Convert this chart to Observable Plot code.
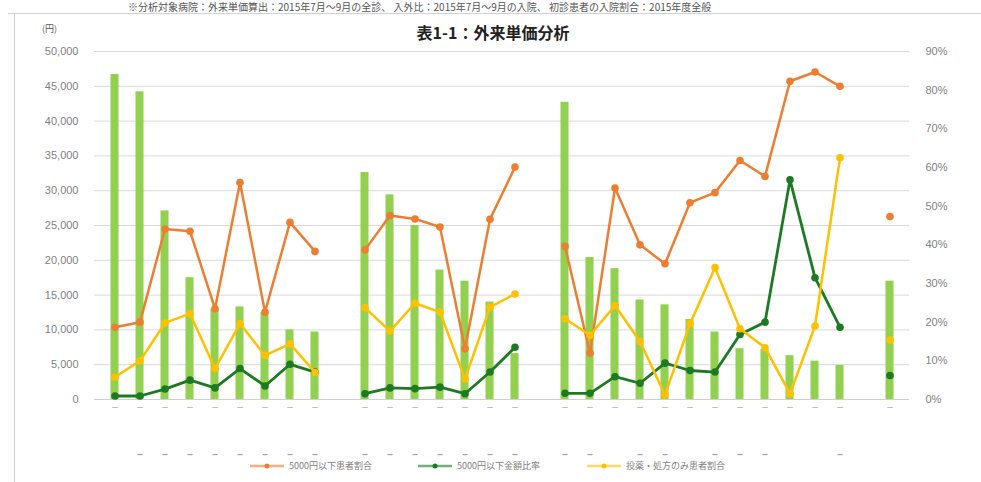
<!DOCTYPE html>
<html>
<head>
<meta charset="utf-8">
<script src="https://cdn.jsdelivr.net/npm/d3@7"></script>
<script src="https://cdn.jsdelivr.net/npm/@observablehq/plot@0.6"></script>
<style>
  html, body { margin: 0; padding: 0; background: #fff; }
  body { width: 981px; height: 482px; position: relative; overflow: hidden;
         font-family: "Noto Sans CJK JP", "Noto Sans", sans-serif; }
  #chart { position: absolute; left: 0; top: 0; }
  .abs { position: absolute; white-space: nowrap; }
  #frameTop { position: absolute; left: 8px; top: 13px; width: 980px; height: 0; border-top: 1px solid #d0d0d0; }
  #frameLeft { position: absolute; left: 14px; top: 13px; width: 0; height: 480px; border-left: 1.5px solid #cfcfcf; }
  .leg { position: absolute; top: 459px; font-size: 9px; color: #7f7f7f; display: flex; align-items: center; gap: 5px; }
</style>
</head>
<body>
<div id="frameTop"></div>
<div id="frameLeft"></div>
<div id="chart"></div>
<div class="abs" style="left:128px; top:1px; font-size:10px; line-height:11px; color:#555;">※分析対象病院：外来単価算出：2015年7月〜9月の全診、 入外比：2015年7月〜9月の入院、 初診患者の入院割合：2015年度全般</div>
<div class="abs" style="left:0; width:986px; top:20px; text-align:center; font-size:16px; font-weight:bold; color:#222;">表1-1：外来単価分析</div>
<div class="abs" style="left:42px; top:22px; font-size:9px; color:#595959;">(円)</div>
<div id="legend"></div>
<script>
// ---- data ----
// 32 category slots: group A (9), gap, group B (7), gap, group C (12), gap, total
const categories = [
  "A1","A2","A3","A4","A5","A6","A7","A8","A9","gap1",
  "B1","B2","B3","B4","B5","B6","B7","gap2",
  "C1","C2","C3","C4","C5","C6","C7","C8","C9","C10","C11","C12","gap3",
  "合計"
];
// 外来単価 (円) – bars, left axis
const unitPrice = [
  46700, 44200, 27100, 17500, 13000, 13300, 12500, 10000, 9700, null,
  32600, 29400, 25000, 18600, 17000, 14000, 6600, null,
  42700, 20400, 18800, 14300, 13600, 11500, 9700, 7300, 7200, 6300, 5500, 4900, null,
  17000
];
// 5000円以下患者割合 (%) – orange, right axis
const under5000Share = [
  18.7, 20.0, 44.1, 43.5, 23.5, 56.1, 22.6, 45.8, 38.3, null,
  38.7, 47.6, 46.7, 44.6, 13.1, 46.6, 60.1, null,
  39.6, 12.0, 54.7, 40.0, 35.1, 50.9, 53.5, 61.8, 57.7, 82.3, 84.7, 81.0, null,
  47.3
];
// 5000円以下金額比率 (%) – dark green, right axis
const under5000Amount = [
  0.9, 0.9, 2.7, 5.0, 3.0, 8.0, 3.5, 9.1, 7.1, null,
  1.5, 3.0, 2.8, 3.2, 1.5, 7.1, 13.5, null,
  1.6, 1.6, 5.9, 4.2, 9.4, 7.5, 7.1, 16.8, 20.0, 56.8, 31.5, 18.7, null,
  6.2
];
// 投薬・処方のみ患者割合 (%) – yellow, right axis
const prescriptionOnlyShare = [
  5.8, 10.0, 19.8, 22.2, 8.0, 19.6, 11.4, 14.4, 7.0, null,
  23.7, 17.7, 24.9, 22.6, 5.3, 23.9, 27.3, null,
  20.9, 16.6, 24.3, 15.0, 1.2, 19.6, 34.1, 18.3, 13.4, 1.5, 19.0, 62.5, null,
  15.4
];
// clipped category labels (only fragments visible)
const labelRow1 = categories.map((c, i) => unitPrice[i] == null ? "" : "–");
const labelRow2Slots = ["A2","A3","A4","A5","A6","A7","A8","A9","B1","B2","B3","B4","B5","B6","B7","C1","C2","C4","C5","C7","C8","C9","C12"];
const leftTicks = d3.range(0, 50001, 5000);
const rightTicks = d3.range(0, 91, 10);
const seriesNames = ["5000円以下患者割合", "5000円以下金額比率", "投薬・処方のみ患者割合"];
const seriesColors = ["#ed7d31", "#1b7a22", "#ffc000"];

// ---- build ----
const Y_MAX = 50000, P_MAX = 90;
const p2y = p => (p == null ? NaN : p / P_MAX * Y_MAX);
const rows = categories.map((c, i) => ({
  cat: c, bar: unitPrice[i],
  o: p2y(under5000Share[i]), g: p2y(under5000Amount[i]), yl: p2y(prescriptionOnlyShare[i]),
  l1: labelRow1[i]
}));
const barRows = rows.filter(d => d.bar != null);
const dotRows = key => rows.filter(d => !isNaN(d[key]));

const chart = Plot.plot({
  width: 981, height: 482,
  marginLeft: 94, marginRight: 72, marginTop: 51, marginBottom: 83,
  x: { domain: categories, padding: 0, axis: null },
  y: { domain: [0, Y_MAX], axis: null },
  style: { fontFamily: "'Liberation Sans', 'Noto Sans', sans-serif", fontSize: "11px", color: "#595959", background: "transparent" },
  marks: [
    Plot.ruleY(leftTicks.slice(1), { stroke: "#d9d9d9", strokeWidth: 1 }),
    Plot.axisY({ anchor: "left", ticks: leftTicks, tickSize: 0, tickPadding: 16, tickFormat: d3.format(","), fill: "#7f7f7f", fontSize: 11 }),
    Plot.axisY({ anchor: "right", ticks: rightTicks.map(p2y), tickSize: 0, tickPadding: 16,
                 tickFormat: d => Math.round(d * P_MAX / Y_MAX) + "%", fill: "#7f7f7f", fontSize: 11 }),
    Plot.barY(barRows, { x: "cat", y: "bar", fill: "#92d050", insetLeft: 8.5, insetRight: 8.5 }),
    Plot.ruleY([0], { stroke: "#d0d0d0", strokeWidth: 1 }),
    Plot.text(rows, { x: "cat", text: "l1", frameAnchor: "bottom", dy: 10, fill: "#b0b0b0", fontSize: 10 }),
    Plot.text(labelRow2Slots, { x: d => d, text: () => "–", frameAnchor: "bottom", dy: 58, fill: "#a0a0a0", fontSize: 10, fontWeight: "bold" }),
    Plot.lineY(rows, { x: "cat", y: "o", stroke: seriesColors[0], strokeWidth: 2.5 }),
    Plot.dot(dotRows("o"), { x: "cat", y: "o", fill: seriesColors[0], r: 3.8 }),
    Plot.lineY(rows, { x: "cat", y: "g", stroke: seriesColors[1], strokeWidth: 2.8 }),
    Plot.dot(dotRows("g"), { x: "cat", y: "g", fill: seriesColors[1], r: 3.8 }),
    Plot.lineY(rows, { x: "cat", y: "yl", stroke: seriesColors[2], strokeWidth: 2.5 }),
    Plot.dot(dotRows("yl"), { x: "cat", y: "yl", fill: seriesColors[2], r: 3.8 })
  ]
});
document.getElementById("chart").appendChild(chart);

// legend
const legendX = [250, 418, 587];
const legend = document.getElementById("legend");
seriesNames.forEach((name, i) => {
  const item = document.createElement("div");
  item.className = "leg";
  item.style.left = legendX[i] + "px";
  item.innerHTML = `<svg width="34" height="8"><line x1="0" y1="4" x2="34" y2="4" stroke="${seriesColors[i]}" stroke-width="2.5" opacity="0.6"/><circle cx="17" cy="4" r="2.5" fill="${seriesColors[i]}"/></svg><span>${name}</span>`;
  legend.appendChild(item);
});
</script>
</body>
</html>
